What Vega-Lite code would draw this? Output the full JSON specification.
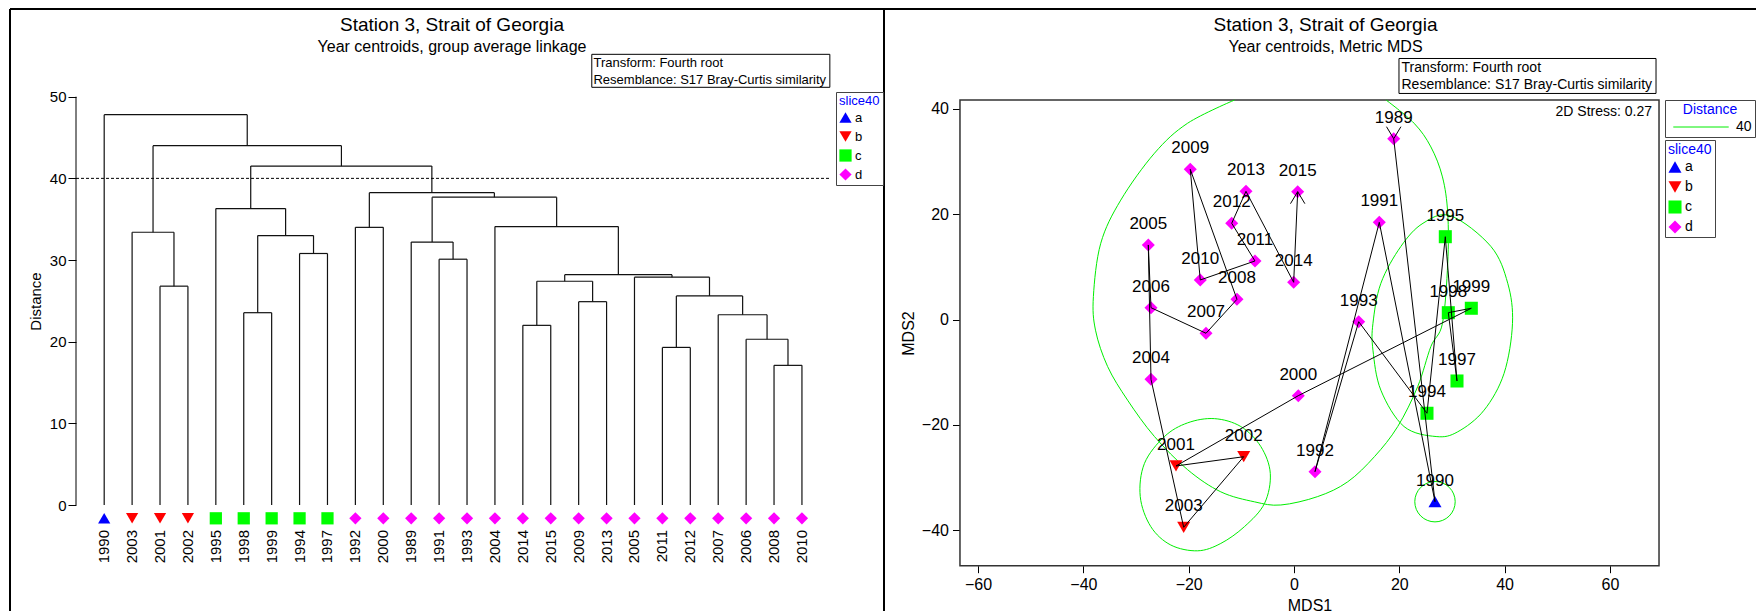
{
  "$schema": "https://vega.github.io/schema/vega-lite/v6.json",
  "padding": {"left": 9, "top": 8, "right": 0, "bottom": 0},
  "background": "white",
  "spacing": -2,
  "config": {
    "font": "Liberation Sans",
    "axis": {"labelColor": "#000", "tickColor": "#000", "titleColor": "#000", "labelFont": "Liberation Sans", "titleFont": "Liberation Sans"},
    "legend": {"strokeColor": "#444", "padding": 3, "titleColor": "#0000ff", "titleFontWeight": "normal", "titleFontSize": 13, "titlePadding": 3, "labelFontSize": 13, "labelColor": "#000", "rowPadding": 5, "symbolStrokeWidth": 0, "labelOffset": 3, "symbolOpacity": 1, "fillColor": "white"}
  },
  "datasets": {
    "years": [
      {"year": 1990, "g": "a", "idx": 0, "X": 26.78, "Y": -34.57},
      {"year": 2003, "g": "b", "idx": 1, "X": -20.95, "Y": -39.43},
      {"year": 2001, "g": "b", "idx": 2, "X": -22.41, "Y": -27.79},
      {"year": 2002, "g": "b", "idx": 3, "X": -9.55, "Y": -26.03},
      {"year": 1995, "g": "c", "idx": 4, "X": 28.74, "Y": 15.75},
      {"year": 1998, "g": "c", "idx": 5, "X": 29.31, "Y": 1.32},
      {"year": 1999, "g": "c", "idx": 6, "X": 33.68, "Y": 2.16},
      {"year": 1994, "g": "c", "idx": 7, "X": 25.26, "Y": -17.78},
      {"year": 1997, "g": "c", "idx": 8, "X": 30.96, "Y": -11.65},
      {"year": 1992, "g": "d", "idx": 9, "X": 3.99, "Y": -28.87},
      {"year": 2000, "g": "d", "idx": 10, "X": 0.82, "Y": -14.44},
      {"year": 1989, "g": "d", "idx": 11, "X": 18.94, "Y": 34.36},
      {"year": 1991, "g": "d", "idx": 12, "X": 16.2, "Y": 18.49},
      {"year": 1993, "g": "d", "idx": 13, "X": 12.29, "Y": -0.39},
      {"year": 2004, "g": "d", "idx": 14, "X": -27.16, "Y": -11.33},
      {"year": 2014, "g": "d", "idx": 15, "X": -0.06, "Y": 7.09},
      {"year": 2015, "g": "d", "idx": 16, "X": 0.7, "Y": 24.3},
      {"year": 2009, "g": "d", "idx": 17, "X": -19.7, "Y": 28.55},
      {"year": 2013, "g": "d", "idx": 18, "X": -9.12, "Y": 24.37},
      {"year": 2005, "g": "d", "idx": 19, "X": -27.67, "Y": 14.18},
      {"year": 2011, "g": "d", "idx": 20, "X": -7.41, "Y": 11.14},
      {"year": 2012, "g": "d", "idx": 21, "X": -11.83, "Y": 18.3},
      {"year": 2007, "g": "d", "idx": 22, "X": -16.71, "Y": -2.59},
      {"year": 2006, "g": "d", "idx": 23, "X": -27.16, "Y": 2.27},
      {"year": 2008, "g": "d", "idx": 24, "X": -10.83, "Y": 3.86},
      {"year": 2010, "g": "d", "idx": 25, "X": -17.8, "Y": 7.53}
    ],
    "segs": [
      {"x": 24, "x2": 25, "y": 17.1, "y2": 17.1}, {"x": 24, "x2": 24, "y": 0, "y2": 17.1}, {"x": 25, "x2": 25, "y": 0, "y2": 17.1},
      {"x": 23, "x2": 24.5, "y": 20.3, "y2": 20.3}, {"x": 23, "x2": 23, "y": 0, "y2": 20.3}, {"x": 24.5, "x2": 24.5, "y": 17.1, "y2": 20.3},
      {"x": 22, "x2": 23.75, "y": 23.3, "y2": 23.3}, {"x": 22, "x2": 22, "y": 0, "y2": 23.3}, {"x": 23.75, "x2": 23.75, "y": 20.3, "y2": 23.3},
      {"x": 20, "x2": 21, "y": 19.3, "y2": 19.3}, {"x": 20, "x2": 20, "y": 0, "y2": 19.3}, {"x": 21, "x2": 21, "y": 0, "y2": 19.3},
      {"x": 20.5, "x2": 22.875, "y": 25.6, "y2": 25.6}, {"x": 20.5, "x2": 20.5, "y": 19.3, "y2": 25.6}, {"x": 22.875, "x2": 22.875, "y": 23.3, "y2": 25.6},
      {"x": 19, "x2": 21.6875, "y": 27.9, "y2": 27.9}, {"x": 19, "x2": 19, "y": 0, "y2": 27.9}, {"x": 21.6875, "x2": 21.6875, "y": 25.6, "y2": 27.9},
      {"x": 15, "x2": 16, "y": 22.0, "y2": 22.0}, {"x": 15, "x2": 15, "y": 0, "y2": 22.0}, {"x": 16, "x2": 16, "y": 0, "y2": 22.0},
      {"x": 17, "x2": 18, "y": 24.9, "y2": 24.9}, {"x": 17, "x2": 17, "y": 0, "y2": 24.9}, {"x": 18, "x2": 18, "y": 0, "y2": 24.9},
      {"x": 15.5, "x2": 17.5, "y": 27.4, "y2": 27.4}, {"x": 15.5, "x2": 15.5, "y": 22.0, "y2": 27.4}, {"x": 17.5, "x2": 17.5, "y": 24.9, "y2": 27.4},
      {"x": 16.5, "x2": 20.344, "y": 28.2, "y2": 28.2}, {"x": 16.5, "x2": 16.5, "y": 27.4, "y2": 28.2}, {"x": 20.344, "x2": 20.344, "y": 27.9, "y2": 28.2},
      {"x": 14, "x2": 18.422, "y": 34.1, "y2": 34.1}, {"x": 14, "x2": 14, "y": 0, "y2": 34.1}, {"x": 18.422, "x2": 18.422, "y": 28.2, "y2": 34.1},
      {"x": 12, "x2": 13, "y": 30.1, "y2": 30.1}, {"x": 12, "x2": 12, "y": 0, "y2": 30.1}, {"x": 13, "x2": 13, "y": 0, "y2": 30.1},
      {"x": 11, "x2": 12.5, "y": 32.2, "y2": 32.2}, {"x": 11, "x2": 11, "y": 0, "y2": 32.2}, {"x": 12.5, "x2": 12.5, "y": 30.1, "y2": 32.2},
      {"x": 11.75, "x2": 16.211, "y": 37.7, "y2": 37.7}, {"x": 11.75, "x2": 11.75, "y": 32.2, "y2": 37.7}, {"x": 16.211, "x2": 16.211, "y": 34.1, "y2": 37.7},
      {"x": 9, "x2": 10, "y": 34.0, "y2": 34.0}, {"x": 9, "x2": 9, "y": 0, "y2": 34.0}, {"x": 10, "x2": 10, "y": 0, "y2": 34.0},
      {"x": 9.5, "x2": 13.98, "y": 38.25, "y2": 38.25}, {"x": 9.5, "x2": 9.5, "y": 34.0, "y2": 38.25}, {"x": 13.98, "x2": 13.98, "y": 37.7, "y2": 38.25},
      {"x": 7, "x2": 8, "y": 30.8, "y2": 30.8}, {"x": 7, "x2": 7, "y": 0, "y2": 30.8}, {"x": 8, "x2": 8, "y": 0, "y2": 30.8},
      {"x": 5, "x2": 6, "y": 23.55, "y2": 23.55}, {"x": 5, "x2": 5, "y": 0, "y2": 23.55}, {"x": 6, "x2": 6, "y": 0, "y2": 23.55},
      {"x": 5.5, "x2": 7.5, "y": 33.0, "y2": 33.0}, {"x": 5.5, "x2": 5.5, "y": 23.55, "y2": 33.0}, {"x": 7.5, "x2": 7.5, "y": 30.8, "y2": 33.0},
      {"x": 4, "x2": 6.5, "y": 36.3, "y2": 36.3}, {"x": 4, "x2": 4, "y": 0, "y2": 36.3}, {"x": 6.5, "x2": 6.5, "y": 33.0, "y2": 36.3},
      {"x": 5.25, "x2": 11.74, "y": 41.5, "y2": 41.5}, {"x": 5.25, "x2": 5.25, "y": 36.3, "y2": 41.5}, {"x": 11.74, "x2": 11.74, "y": 38.25, "y2": 41.5},
      {"x": 2, "x2": 3, "y": 26.8, "y2": 26.8}, {"x": 2, "x2": 2, "y": 0, "y2": 26.8}, {"x": 3, "x2": 3, "y": 0, "y2": 26.8},
      {"x": 1, "x2": 2.5, "y": 33.4, "y2": 33.4}, {"x": 1, "x2": 1, "y": 0, "y2": 33.4}, {"x": 2.5, "x2": 2.5, "y": 26.8, "y2": 33.4},
      {"x": 1.75, "x2": 8.5, "y": 44.0, "y2": 44.0}, {"x": 1.75, "x2": 1.75, "y": 33.4, "y2": 44.0}, {"x": 8.5, "x2": 8.5, "y": 41.5, "y2": 44.0},
      {"x": 0, "x2": 5.125, "y": 47.8, "y2": 47.8}, {"x": 0, "x2": 0, "y": 0, "y2": 47.8}, {"x": 5.125, "x2": 5.125, "y": 44.0, "y2": 47.8}
    ],
    "openContour": [
      {"k": 0, "X": -11.3, "Y": 41.7}, {"k": 1, "X": -20.2, "Y": 37.3}, {"k": 2, "X": -26.5, "Y": 31.6},
      {"k": 3, "X": -32.9, "Y": 22.7}, {"k": 4, "X": -36.7, "Y": 14.5}, {"k": 5, "X": -38.1, "Y": 4.4},
      {"k": 6, "X": -37.7, "Y": -2.0}, {"k": 7, "X": -35.4, "Y": -8.9}, {"k": 8, "X": -31.6, "Y": -15.3},
      {"k": 9, "X": -26.5, "Y": -22.2}, {"k": 10, "X": -20.2, "Y": -28.5}, {"k": 11, "X": -13.9, "Y": -32.7},
      {"k": 12, "X": -7.5, "Y": -34.6}, {"k": 13, "X": -2.5, "Y": -35.2}, {"k": 14, "X": 4.5, "Y": -33.6},
      {"k": 15, "X": 10.2, "Y": -30.8}, {"k": 16, "X": 15.3, "Y": -26.0}, {"k": 17, "X": 19.7, "Y": -20.3},
      {"k": 18, "X": 23.5, "Y": -12.7}, {"k": 19, "X": 26.0, "Y": -5.1}, {"k": 20, "X": 28.2, "Y": -0.7},
      {"k": 21, "X": 29.2, "Y": 10.7}, {"k": 22, "X": 29.2, "Y": 20.2}, {"k": 23, "X": 28.2, "Y": 27.1},
      {"k": 24, "X": 26.0, "Y": 32.8}, {"k": 25, "X": 22.8, "Y": 37.3}, {"k": 26, "X": 17.5, "Y": 41.7}
    ],
    "closedContours": [
      {"cid": "c", "k": 0, "X": 29.8, "Y": 19.7}, {"cid": "c", "k": 1, "X": 37.4, "Y": 13.9}, {"cid": "c", "k": 2, "X": 40.6, "Y": 6.9},
      {"cid": "c", "k": 3, "X": 41.5, "Y": -0.7}, {"cid": "c", "k": 4, "X": 39.9, "Y": -10.2}, {"cid": "c", "k": 5, "X": 36.1, "Y": -17.2},
      {"cid": "c", "k": 6, "X": 31.1, "Y": -21.3}, {"cid": "c", "k": 7, "X": 27.0, "Y": -22.2}, {"cid": "c", "k": 8, "X": 20.9, "Y": -20.3},
      {"cid": "c", "k": 9, "X": 16.5, "Y": -13.4}, {"cid": "c", "k": 10, "X": 15.0, "Y": -5.8}, {"cid": "c", "k": 11, "X": 15.0, "Y": -0.7},
      {"cid": "c", "k": 12, "X": 16.5, "Y": 6.9}, {"cid": "c", "k": 13, "X": 20.3, "Y": 13.9}, {"cid": "c", "k": 14, "X": 24.5, "Y": 18.3},
      {"cid": "b", "k": 0, "X": -15.1, "Y": -18.8}, {"cid": "b", "k": 1, "X": -10.1, "Y": -20.3}, {"cid": "b", "k": 2, "X": -6.3, "Y": -24.1},
      {"cid": "b", "k": 3, "X": -4.5, "Y": -29.2}, {"cid": "b", "k": 4, "X": -5.6, "Y": -34.9}, {"cid": "b", "k": 5, "X": -9.4, "Y": -39.3},
      {"cid": "b", "k": 6, "X": -13.9, "Y": -42.5}, {"cid": "b", "k": 7, "X": -18.3, "Y": -43.9}, {"cid": "b", "k": 8, "X": -23.4, "Y": -42.8},
      {"cid": "b", "k": 9, "X": -27.2, "Y": -39.3}, {"cid": "b", "k": 10, "X": -29.2, "Y": -33.6}, {"cid": "b", "k": 11, "X": -28.4, "Y": -27.3},
      {"cid": "b", "k": 12, "X": -24.6, "Y": -22.2}, {"cid": "b", "k": 13, "X": -20.2, "Y": -19.6}
    ]
  },
  "resolve": {
    "scale": {"color": "independent", "shape": "independent", "stroke": "independent"},
    "legend": {"color": "independent", "shape": "independent", "stroke": "independent"}
  },
  "hconcat": [
    {
      "width": 874,
      "height": 602,
      "view": {"stroke": "#000", "strokeWidth": 2, "strokeDash": [1476, 874, 602, 0]},
      "title": {"text": "Station 3, Strait of Georgia", "subtitle": "Year centroids, group average linkage", "anchor": "middle", "frame": "group", "offset": -46, "dx": 5, "fontSize": 19, "fontWeight": "normal", "subtitleFontSize": 16, "subtitlePadding": 4, "color": "#000", "subtitleColor": "#000", "font": "Liberation Sans", "subtitleFont": "Liberation Sans"},
      "layer": [
        {
          "data": {"name": "segs"},
          "mark": {"type": "rule", "color": "#111", "strokeWidth": 1.2},
          "encoding": {
            "x": {"field": "x", "type": "quantitative", "scale": {"domain": [-3.375, 27.94], "nice": false, "zero": false}, "axis": null},
            "x2": {"field": "x2"},
            "y": {"field": "y", "type": "quantitative", "scale": {"domain": [-12.98, 60.74], "nice": false, "zero": false},
              "axis": {"values": [0, 10, 20, 30, 40, 50], "offset": -66, "domain": false, "grid": false, "tickSize": 8, "labelFontSize": 15, "labelPadding": 2, "labelFlush": false, "title": "Distance", "titleFontSize": 15, "titleFontWeight": "normal", "titleAngle": 270, "titleAlign": "center", "titleBaseline": "middle", "titleX": -41, "titleY": 292}},
            "y2": {"field": "y2"}
          }
        },
        {
          "data": {"values": [{}]},
          "mark": {"type": "rule", "color": "#000", "strokeWidth": 1},
          "encoding": {"x": {"datum": -1.01}, "y": {"datum": 0}, "y2": {"datum": 50}}
        },
        {
          "data": {"values": [{}]},
          "mark": {"type": "rule", "color": "#000", "strokeWidth": 1, "strokeDash": [3, 2]},
          "encoding": {"x": {"datum": -1.01}, "x2": {"datum": 25.97}, "y": {"datum": 40}}
        },
        {
          "data": {"name": "years"},
          "mark": {"type": "point", "filled": true, "size": 150, "opacity": 1, "strokeWidth": 0},
          "encoding": {
            "x": {"field": "idx", "type": "quantitative"},
            "y": {"datum": -1.63},
            "shape": {"field": "g", "type": "nominal", "scale": {"domain": ["a", "b", "c", "d"], "range": ["triangle-up", "triangle-down", "square", "diamond"]},
              "legend": {"title": "slice40", "orient": "none", "legendX": 826, "legendY": 83, "symbolSize": 150}},
            "color": {"field": "g", "type": "nominal", "scale": {"domain": ["a", "b", "c", "d"], "range": ["#0000ff", "#ff0000", "#00ff00", "#ff00ff"]},
              "legend": {"title": "slice40", "orient": "none", "legendX": 826, "legendY": 83, "symbolSize": 150}}
          }
        },
        {
          "data": {"name": "years"},
          "mark": {"type": "text", "angle": 270, "align": "right", "baseline": "middle", "fontSize": 15, "color": "#000"},
          "encoding": {
            "x": {"field": "idx", "type": "quantitative"},
            "y": {"datum": -3.06},
            "text": {"field": "year", "type": "nominal"}
          }
        },
        {
          "data": {"values": [{}]},
          "mark": {"type": "rect", "fill": "white", "stroke": "#000", "strokeWidth": 1},
          "encoding": {"x": {"datum": 17.47}, "x2": {"datum": 26.0}, "y": {"datum": 55.19}, "y2": {"datum": 51.15}}
        },
        {
          "data": {"values": [{}]},
          "mark": {"type": "text", "align": "left", "baseline": "middle", "fontSize": 13, "lineHeight": 16.3, "color": "#000"},
          "encoding": {"x": {"datum": 17.53}, "y": {"datum": 54.1}, "text": {"value": ["Transform: Fourth root", "Resemblance: S17 Bray-Curtis similarity"]}}
        }
      ]
    },
    {
      "width": 871,
      "height": 602,
      "view": {"stroke": "#000", "strokeWidth": 2, "strokeDash": [871, 2075]},
      "title": {"text": "Station 3, Strait of Georgia", "subtitle": "Year centroids, Metric MDS", "anchor": "middle", "frame": "group", "offset": -46, "dx": 5, "fontSize": 19, "fontWeight": "normal", "subtitleFontSize": 16, "subtitlePadding": 4, "color": "#000", "subtitleColor": "#000", "font": "Liberation Sans", "subtitleFont": "Liberation Sans"},
      "layer": [
        {
          "data": {"values": [{}]},
          "mark": {"type": "rect", "fill": "white", "stroke": "#333", "strokeWidth": 1.5},
          "encoding": {"x": {"datum": -63.44}, "x2": {"datum": 69.33}, "y": {"datum": 41.71}, "y2": {"datum": -46.72}}
        },
        {
          "data": {"name": "closedContours"},
          "mark": {"type": "line", "interpolate": "cardinal-closed", "strokeWidth": 1},
          "encoding": {
            "x": {"field": "X", "type": "quantitative"},
            "y": {"field": "Y", "type": "quantitative"},
            "detail": {"field": "cid"},
            "order": {"field": "k", "type": "quantitative"},
            "stroke": {"datum": "40", "type": "nominal", "scale": {"domain": ["40"], "range": ["#00ee00"]},
              "legend": {"title": "Distance", "orient": "none", "legendX": 780, "legendY": 91, "symbolType": "M-8,0H8", "symbolSize": 48, "symbolStrokeWidth": 1, "symbolOffset": 26, "labelOffset": 28, "titleFontSize": 14, "labelFontSize": 14, "titleAnchor": "middle"}}
          }
        },
        {
          "data": {"name": "openContour"},
          "mark": {"type": "line", "interpolate": "cardinal", "strokeWidth": 1},
          "encoding": {
            "x": {"field": "X", "type": "quantitative"},
            "y": {"field": "Y", "type": "quantitative"},
            "order": {"field": "k", "type": "quantitative"},
            "stroke": {"datum": "40", "type": "nominal"}
          }
        },
        {
          "data": {"name": "years"},
          "transform": [{"filter": "datum.year == 1990"}],
          "mark": {"type": "point", "shape": "circle", "size": 1632, "filled": false, "stroke": "#00ee00", "strokeWidth": 1, "opacity": 1},
          "encoding": {
            "x": {"field": "X", "type": "quantitative"},
            "y": {"field": "Y", "type": "quantitative"}
          }
        },
        {
          "data": {"name": "years"},
          "mark": {"type": "point", "filled": true, "size": 170, "opacity": 1, "strokeWidth": 0},
          "encoding": {
            "x": {"field": "X", "type": "quantitative", "scale": {"domain": [-77.68, 87.75], "nice": false, "zero": false},
              "axis": {"values": [-60, -40, -20, 0, 20, 40, 60], "offset": -45.3, "domain": false, "grid": false, "tickSize": 7, "labelFontSize": 16, "labelPadding": 4, "labelFlush": false, "title": "MDS1", "titleFontSize": 16, "titleFontWeight": "normal", "titleX": 424.5, "titleY": 40, "titleAlign": "center", "titleBaseline": "middle"}},
            "y": {"field": "Y", "type": "quantitative", "scale": {"domain": [-55.33, 58.99], "nice": false, "zero": false},
              "axis": {"values": [-40, -20, 0, 20, 40], "offset": -75, "domain": false, "grid": false, "tickSize": 7.5, "labelFontSize": 16, "labelPadding": 4, "labelFlush": false, "title": "MDS2", "titleFontSize": 16, "titleFontWeight": "normal", "titleAngle": 270, "titleAlign": "center", "titleBaseline": "middle", "titleX": -52, "titleY": 324}},
            "shape": {"field": "g", "type": "nominal", "scale": {"domain": ["a", "b", "c", "d"], "range": ["triangle-up", "triangle-down", "square", "diamond"]},
              "legend": {"title": "slice40", "orient": "none", "legendX": 780, "legendY": 131, "symbolSize": 170, "titleFontSize": 14, "labelFontSize": 14, "rowPadding": 6}},
            "color": {"field": "g", "type": "nominal", "scale": {"domain": ["a", "b", "c", "d"], "range": ["#0000ff", "#ff0000", "#00ff00", "#ff00ff"]},
              "legend": {"title": "slice40", "orient": "none", "legendX": 780, "legendY": 131, "symbolSize": 170, "titleFontSize": 14, "labelFontSize": 14, "rowPadding": 6}}
          }
        },
        {
          "data": {"name": "years"},
          "mark": {"type": "line", "color": "#000", "strokeWidth": 1},
          "encoding": {
            "x": {"field": "X", "type": "quantitative"},
            "y": {"field": "Y", "type": "quantitative"},
            "order": {"field": "year", "type": "quantitative"}
          }
        },
        {
          "data": {"name": "years"},
          "transform": [{"filter": "datum.year == 2015"}],
          "mark": {"type": "point", "shape": "M-0.6,1L0,0L0.6,1", "size": 576, "filled": false, "stroke": "#000", "strokeWidth": 1, "opacity": 1},
          "encoding": {"x": {"field": "X", "type": "quantitative"}, "y": {"field": "Y", "type": "quantitative"}}
        },
        {
          "data": {"name": "years"},
          "transform": [{"filter": "datum.year == 1989"}],
          "mark": {"type": "point", "shape": "M-0.6,-1L0,0L0.6,-1", "size": 576, "filled": false, "stroke": "#000", "strokeWidth": 1, "opacity": 1},
          "encoding": {"x": {"field": "X", "type": "quantitative"}, "y": {"field": "Y", "type": "quantitative"}}
        },
        {
          "data": {"name": "years"},
          "mark": {"type": "text", "align": "center", "baseline": "middle", "dy": -21, "fontSize": 17, "color": "#000"},
          "encoding": {
            "x": {"field": "X", "type": "quantitative"},
            "y": {"field": "Y", "type": "quantitative"},
            "text": {"field": "year", "type": "nominal"}
          }
        },
        {
          "data": {"values": [{}]},
          "mark": {"type": "text", "align": "right", "baseline": "middle", "fontSize": 14, "color": "#000"},
          "encoding": {"x": {"datum": 68.0}, "y": {"datum": 39.43}, "text": {"value": "2D Stress: 0.27"}}
        },
        {
          "data": {"values": [{}]},
          "mark": {"type": "rect", "fill": "white", "stroke": "#000", "strokeWidth": 1},
          "encoding": {"x": {"datum": 19.94}, "x2": {"datum": 68.76}, "y": {"datum": 49.59}, "y2": {"datum": 42.95}}
        },
        {
          "data": {"values": [{}]},
          "mark": {"type": "text", "align": "left", "baseline": "middle", "fontSize": 14, "lineHeight": 17, "color": "#000"},
          "encoding": {"x": {"datum": 20.42}, "y": {"datum": 47.85}, "text": {"value": ["Transform: Fourth root", "Resemblance: S17 Bray-Curtis similarity"]}}
        }
      ]
    }
  ]
}
